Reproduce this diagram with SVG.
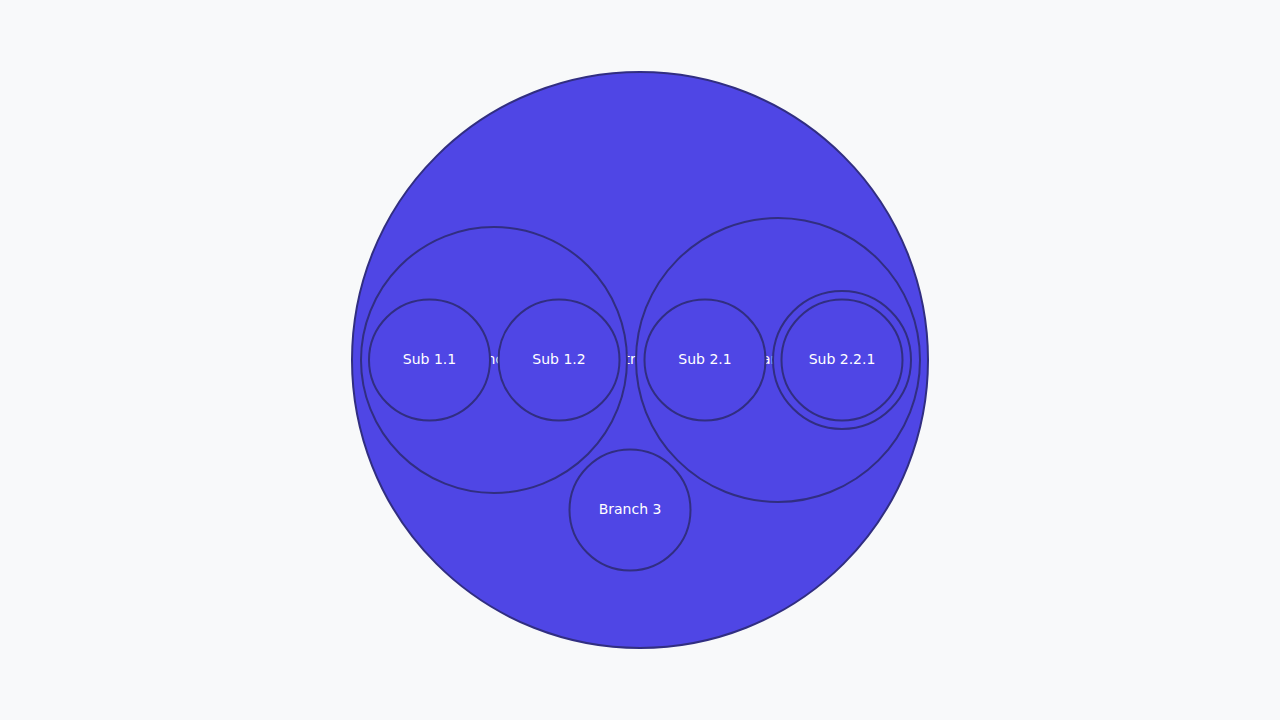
<svg xmlns="http://www.w3.org/2000/svg" width="1280" height="720" viewBox="0 0 1280 720">
<style>
.n circle{fill:#4f46e5;stroke:#312e81;stroke-width:2}
.n text{fill:#ffffff;font-family:"DejaVu Sans",sans-serif;font-size:14px;text-anchor:middle;dominant-baseline:central}
</style>
<rect width="1280" height="720" fill="#f8f9fa"/>
<g id="connectors"></g>
<g id="root" class="n"><circle cx="640" cy="360" r="288"/><text x="640" y="359">Central Idea</text></g>
<g id="branch1" class="n"><circle cx="494" cy="360" r="133"/><text x="494" y="359">Branch 1</text></g>
<g id="sub11" class="n"><circle cx="429.5" cy="360" r="60.5"/><text x="429.5" y="359">Sub 1.1</text></g>
<g id="sub12" class="n"><circle cx="559" cy="360" r="60.5"/><text x="559" y="359">Sub 1.2</text></g>
<g id="branch2" class="n"><circle cx="778" cy="360" r="142"/><text x="778" y="359">Branch 2</text></g>
<g id="sub21" class="n"><circle cx="705" cy="360" r="60.5"/><text x="705" y="359">Sub 2.1</text></g>
<g id="sub22" class="n"><circle cx="842" cy="360" r="69"/></g>
<g id="sub221" class="n"><circle cx="842" cy="360" r="60.5"/><text x="842" y="359">Sub 2.2.1</text></g>
<g id="branch3" class="n"><circle cx="630" cy="510" r="60.5"/><text x="630" y="509">Branch 3</text></g>
</svg>
